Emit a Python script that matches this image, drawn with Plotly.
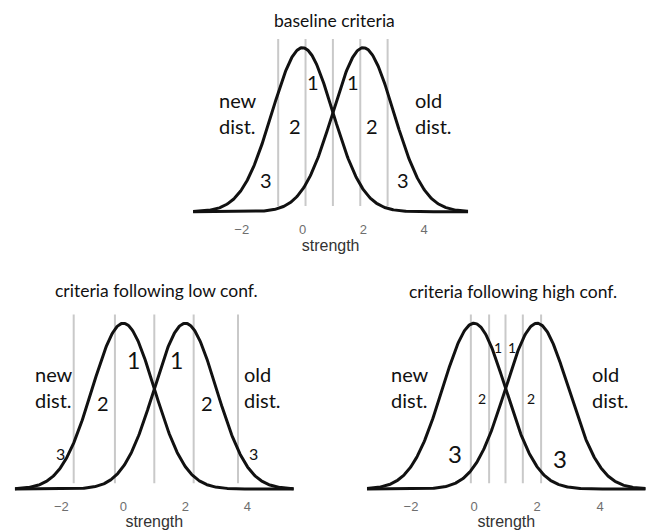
import numpy as np
import plotly.graph_objects as go

# Signal-detection model: "new" and "old" strength distributions
NEW_MEAN = 0.0
OLD_MEAN = 2.0
SD = 1.0

TICK_VALUES = [-2, 0, 2, 4]
TICK_TEXT = ["\u22122", "0", "2", "4"]

PANEL_TITLES = ["baseline criteria",
                "criteria following low conf.",
                "criteria following high conf."]

# confidence criteria (strength values) for each condition
CRITERIA_BASELINE = [-0.8, 0.1, 1.0, 1.9, 2.8]
CRITERIA_LOW_CONF = [-1.6, -0.27, 1.0, 2.27, 3.7]
CRITERIA_HIGH_CONF = [-0.1, 0.48, 1.0, 1.55, 2.13]

# confidence-region labels: text, strength, density
LABELS_BASELINE = [("1", 0.355, 0.316), ("1", 1.67, 0.316),
                   ("2", -0.25, 0.208), ("2", 2.28, 0.208),
                   ("3", -1.2, 0.077), ("3", 3.3, 0.077)]
LABELS_LOW_CONF = [("1", 0.32, 0.31), ("1", 1.72, 0.31),
                   ("2", -0.645, 0.206), ("2", 2.69, 0.206),
                   ("3", -2.04, 0.086), ("3", 4.2, 0.086)]
LABELS_HIGH_CONF = [("1", 0.77, 0.341), ("1", 1.2, 0.341),
                    ("2", 0.245, 0.218), ("2", 1.81, 0.218),
                    ("3", -0.6, 0.086), ("3", 2.73, 0.074)]

W, H = 646, 530
TEXT_FONT = "Lato"
AXIS_FONT = "Liberation Sans"

# layout of each panel (pixel boxes, curve extent, label sizes)
panels = [
    dict(title=PANEL_TITLES[0], crit=CRITERIA_BASELINE, labels=LABELS_BASELINE,
         xpx=(302.5, 30.4), ypx=(211.7, 411.1), curve=(-3.6, 5.45),
         sizes={"1": 20, "2": 20, "3": 20},
         new_x=-2.82, old_x=3.65, dist_y=0.241, title_y=21, title_x=334),
    dict(title=PANEL_TITLES[1], crit=CRITERIA_LOW_CONF, labels=LABELS_LOW_CONF,
         xpx=(123.3, 31.0), ypx=(489.0, 415.4), curve=(-3.5, 5.5),
         sizes={"1": 23, "2": 20, "3": 16},
         new_x=-2.9, old_x=3.82, dist_y=0.245, title_y=290, title_x=156.7),
    dict(title=PANEL_TITLES[2], crit=CRITERIA_HIGH_CONF, labels=LABELS_HIGH_CONF,
         xpx=(474.0, 31.5), ypx=(489.0, 415.4), curve=(-3.4, 5.45),
         sizes={"1": 14, "2": 14, "3": 24},
         new_x=-2.69, old_x=3.68, dist_y=0.245, title_y=291.7, title_x=512.5),
]

Y_RANGE = (-0.012, 0.425)
LINE_BOTTOM, LINE_TOP = 0.014, 0.42


def normal_pdf(x, mu, sd):
    return np.exp(-0.5 * ((x - mu) / sd) ** 2) / (sd * np.sqrt(2 * np.pi))


fig = go.Figure()
annotations = []

for i, p in enumerate(panels, start=1):
    xa = "x" if i == 1 else f"x{i}"
    ya = "y" if i == 1 else f"y{i}"
    x0px, xscale = p["xpx"]
    base_px, yscale = p["ypx"]
    lo, hi = p["curve"]

    # axis domains from the pixel box
    xdom = [(x0px + lo * xscale) / W, min((x0px + hi * xscale) / W, 1.0)]
    ydom = [1 - (base_px - Y_RANGE[0] * yscale) / H,
            1 - (base_px - Y_RANGE[1] * yscale) / H]

    # criterion lines
    for c in p["crit"]:
        fig.add_trace(go.Scatter(x=[c, c], y=[LINE_BOTTOM, LINE_TOP], mode="lines",
                                 line=dict(color="#c9c9c9", width=2),
                                 xaxis=xa, yaxis=ya, hoverinfo="skip",
                                 showlegend=False))

    # the two strength distributions
    xs = np.linspace(lo, hi, 400)
    for mu in (NEW_MEAN, OLD_MEAN):
        fig.add_trace(go.Scatter(x=xs, y=normal_pdf(xs, mu, SD), mode="lines",
                                 line=dict(color="#111111", width=3),
                                 xaxis=xa, yaxis=ya, hoverinfo="skip",
                                 showlegend=False))

    ax_common = dict(showgrid=False, zeroline=False, showline=False)
    fig.layout[("xaxis" if i == 1 else f"xaxis{i}")] = dict(
        domain=xdom, range=[lo, hi], anchor=ya,
        tickmode="array", tickvals=TICK_VALUES, ticktext=TICK_TEXT,
        ticks="", tickfont=dict(family=AXIS_FONT, size=13, color="#6e6e6e"),
        ticklabelstandoff=3,
        title=dict(text="strength", standoff=1,
                   font=dict(family=AXIS_FONT, size=16, color="#333333")),
        **ax_common)
    fig.layout[("yaxis" if i == 1 else f"yaxis{i}")] = dict(
        domain=ydom, range=list(Y_RANGE), anchor=xa, visible=False, **ax_common)

    xref = "x" if i == 1 else f"x{i}"
    yref = "y" if i == 1 else f"y{i}"
    for txt, lx, ly in p["labels"]:
        annotations.append(dict(x=lx, y=ly, xref=xref, yref=yref, text=txt,
                                showarrow=False, xanchor="center",
                                font=dict(family=TEXT_FONT, size=p["sizes"][txt],
                                          color="#111111")))
    for txt, lx in (("new<br>dist.", p["new_x"]), ("old<br>dist.", p["old_x"])):
        annotations.append(dict(x=lx, y=p["dist_y"], xref=xref, yref=yref,
                                text=txt, showarrow=False, xanchor="left",
                                align="left",
                                font=dict(family=TEXT_FONT, size=20,
                                          color="#111111")))
    annotations.append(dict(x=p["title_x"] / W, y=1 - p["title_y"] / H,
                            xref="paper", yref="paper", text=p["title"],
                            showarrow=False, xanchor="center", yanchor="middle",
                            font=dict(family=TEXT_FONT, size=17.5,
                                      color="#111111")))

fig.update_layout(width=W, height=H, margin=dict(l=0, r=0, t=0, b=0),
                  paper_bgcolor="white", plot_bgcolor="white",
                  annotations=annotations, showlegend=False)

fig.write_html("out.html")
